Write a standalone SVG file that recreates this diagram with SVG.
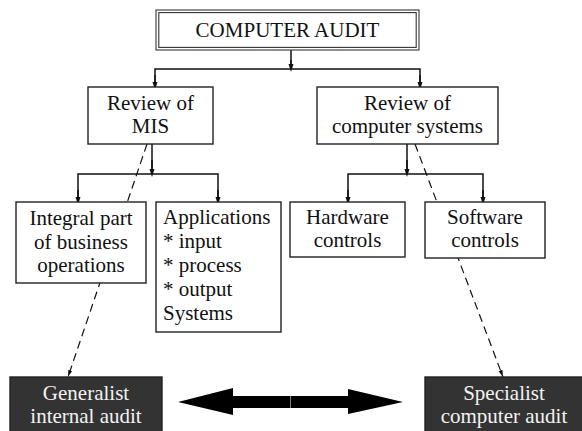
<svg xmlns="http://www.w3.org/2000/svg" width="582" height="431" viewBox="0 0 582 431">
<style>
.c{text-anchor:middle}
.box{fill:#fff;stroke:#222;stroke-width:1.4}
.dark{fill:#333;stroke:#222;stroke-width:1.4}
.ln{fill:none;stroke:#111;stroke-width:1.5}
.dash{fill:none;stroke:#111;stroke-width:1.2;stroke-dasharray:8 5}
</style>
<defs>
<marker id="ah" markerWidth="8" markerHeight="13" refX="8" refY="4" orient="auto" markerUnits="userSpaceOnUse" viewBox="0 0 13 8">
<path d="M0,0 L13,4 L0,8 Z" fill="#111"/>
</marker>
<marker id="ahd" markerWidth="7" markerHeight="12" refX="12" refY="3.5" orient="auto" markerUnits="userSpaceOnUse" viewBox="0 0 12 7">
<path d="M0,0 L12,3.5 L0,7 Z" fill="#111"/>
</marker>
</defs>
<g id="connectors">
<line class="dash" x1="147" y1="144" x2="68" y2="377" marker-end="url(#ahd)"/>
<line class="dash" x1="415" y1="144" x2="503" y2="377" marker-end="url(#ahd)"/>
<path class="ln" d="M291,50 V68.5"/>
<path class="ln" d="M291,60 V69" marker-end="url(#ah)"/>
<path class="ln" d="M155,87 V69 H420 V87"/>
<path class="ln" d="M155,75 V87" marker-end="url(#ah)"/>
<path class="ln" d="M420,75 V87" marker-end="url(#ah)"/>
<path class="ln" d="M152,144 V174"/>
<path class="ln" d="M152,160 V174" marker-end="url(#ah)"/>
<path class="ln" d="M78,202 V174 H218 V202"/>
<path class="ln" d="M78,190 V202" marker-end="url(#ah)"/>
<path class="ln" d="M218,190 V202" marker-end="url(#ah)"/>
<path class="ln" d="M407,144 V174"/>
<path class="ln" d="M407,160 V174" marker-end="url(#ah)"/>
<path class="ln" d="M348,202 V174 H483 V202"/>
<path class="ln" d="M348,190 V202" marker-end="url(#ah)"/>
<path class="ln" d="M483,190 V202" marker-end="url(#ah)"/>
<path d="M178,402 L233,388 L233,396 L290,396 L290,408 L233,408 L233,415 Z" fill="#000"/>
<path d="M403,402 L348,389 L348,396 L290.5,396 L290.5,408 L348,408 L348,414 Z" fill="#000"/>
</g>
<g id="computer-audit">
<rect x="156" y="10" width="263" height="40" fill="#fff" stroke="#333" stroke-width="1.1"/>
<rect x="158.8" y="12.6" width="257.4" height="34.8" fill="none" stroke="#333" stroke-width="1.1"/>
<text class="c" x="287.5" y="36.5" font-family="Liberation Serif" font-size="21" fill="#111" style="font-family:'Liberation Serif',serif">COMPUTER AUDIT</text>
</g>
<g id="review-mis">
<rect class="box" x="88" y="87" width="125" height="57"/>
<text class="c" x="150.5" y="110" font-family="Liberation Serif" font-size="21" fill="#111" style="font-family:'Liberation Serif',serif">Review of</text>
<text class="c" x="150.5" y="133" font-family="Liberation Serif" font-size="21" fill="#111" style="font-family:'Liberation Serif',serif">MIS</text>
</g>
<g id="review-computer-systems">
<rect class="box" x="317" y="87" width="181" height="57"/>
<text class="c" x="407.5" y="110" font-family="Liberation Serif" font-size="21" fill="#111" style="font-family:'Liberation Serif',serif">Review of</text>
<text class="c" x="407.5" y="133" font-family="Liberation Serif" font-size="21" fill="#111" style="font-family:'Liberation Serif',serif">computer systems</text>
</g>
<g id="integral-part">
<rect class="box" x="16" y="202" width="130" height="81"/>
<text class="c" x="81" y="225" font-family="Liberation Serif" font-size="21" fill="#111" style="font-family:'Liberation Serif',serif">Integral part</text>
<text class="c" x="81" y="248.5" font-family="Liberation Serif" font-size="21" fill="#111" style="font-family:'Liberation Serif',serif">of business</text>
<text class="c" x="81" y="272" font-family="Liberation Serif" font-size="21" fill="#111" style="font-family:'Liberation Serif',serif">operations</text>
</g>
<g id="applications">
<rect class="box" x="156" y="202" width="125" height="130"/>
<text x="163" y="224" font-family="Liberation Serif" font-size="21" fill="#111" style="font-family:'Liberation Serif',serif">Applications</text>
<text x="163" y="248" font-family="Liberation Serif" font-size="21" fill="#111" style="font-family:'Liberation Serif',serif">* input</text>
<text x="163" y="272" font-family="Liberation Serif" font-size="21" fill="#111" style="font-family:'Liberation Serif',serif">* process</text>
<text x="163" y="296" font-family="Liberation Serif" font-size="21" fill="#111" style="font-family:'Liberation Serif',serif">* output</text>
<text x="163" y="320" font-family="Liberation Serif" font-size="21" fill="#111" style="font-family:'Liberation Serif',serif">Systems</text>
</g>
<g id="hardware-controls">
<rect class="box" x="290" y="202" width="115" height="55"/>
<text class="c" x="347.5" y="224" font-family="Liberation Serif" font-size="21" fill="#111" style="font-family:'Liberation Serif',serif">Hardware</text>
<text class="c" x="347.5" y="247" font-family="Liberation Serif" font-size="21" fill="#111" style="font-family:'Liberation Serif',serif">controls</text>
</g>
<g id="software-controls">
<rect class="box" x="425" y="202" width="120" height="56"/>
<text class="c" x="485" y="224" font-family="Liberation Serif" font-size="21" fill="#111" style="font-family:'Liberation Serif',serif">Software</text>
<text class="c" x="485" y="247" font-family="Liberation Serif" font-size="21" fill="#111" style="font-family:'Liberation Serif',serif">controls</text>
</g>
<g id="generalist">
<rect class="dark" x="10" y="377" width="152" height="60"/>
<text class="c" x="86" y="400" font-family="Liberation Serif" font-size="21" fill="#f2f2f2" style="font-family:'Liberation Serif',serif">Generalist</text>
<text class="c" x="86" y="423" font-family="Liberation Serif" font-size="21" fill="#f2f2f2" style="font-family:'Liberation Serif',serif">internal audit</text>
</g>
<g id="specialist">
<rect class="dark" x="425" y="377" width="160" height="60"/>
<text class="c" x="504" y="400" font-family="Liberation Serif" font-size="21" fill="#f2f2f2" style="font-family:'Liberation Serif',serif">Specialist</text>
<text class="c" x="504" y="423" font-family="Liberation Serif" font-size="21" fill="#f2f2f2" style="font-family:'Liberation Serif',serif">computer audit</text>
</g>
</svg>
